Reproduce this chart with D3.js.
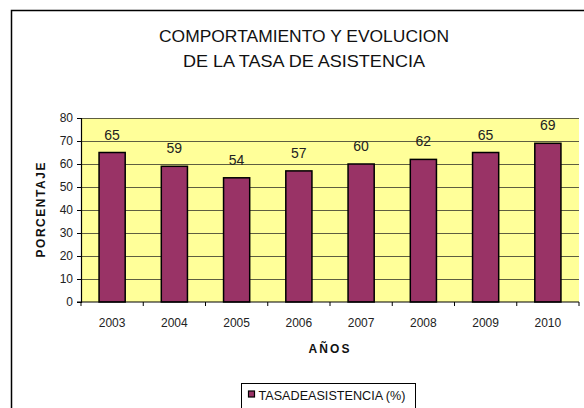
<!DOCTYPE html>
<html>
<head>
<meta charset="utf-8">
<script src="https://cdn.jsdelivr.net/npm/d3@7"></script>
<style>
  body { margin: 0; background: #fff; }
  svg { display: block; font-family: "Liberation Sans", Arial, sans-serif; }
</style>
</head>
<body>
<svg id="chart" width="584" height="408"></svg>
<script>
var years = ['2003', '2004', '2005', '2006', '2007', '2008', '2009', '2010']
var tasa = [65, 59, 54, 57, 60, 62, 65, 69]
var yTicks = [0, 10, 20, 30, 40, 50, 60, 70, 80]
var titleLines = ['COMPORTAMIENTO Y EVOLUCION', 'DE LA TASA DE ASISTENCIA']
var seriesName = 'TASADEASISTENCIA (%)'

var svg = d3.select('#chart')
var plot = { left: 81, right: 579, top: 118, bottom: 302 }
var titleWidths = [290, 242]

// outer chart frame (runs off the picture on right/bottom)
svg.append('rect')
  .attr('x', 11.5).attr('y', 10.5)
  .attr('width', 620).attr('height', 430)
  .attr('fill', '#fff').attr('stroke', '#000').attr('stroke-width', 1.5)

// title
svg.selectAll('.title')
  .data(titleLines)
  .enter()
  .append('text')
  .attr('class', 'title')
  .attr('x', 304)
  .attr('y', function(d, i) { return 42 + i * 25 })
  .attr('text-anchor', 'middle')
  .attr('font-size', 17)
  .attr('textLength', function(d, i) { return titleWidths[i] })
  .attr('lengthAdjust', 'spacingAndGlyphs')
  .attr('fill', '#111')
  .text(function(d) { return d })

var x = d3.scaleBand()
  .domain(years)
  .range([plot.left, plot.right])
  .paddingInner(0.58)
  .paddingOuter(0.29)

var y = d3.scaleLinear().domain([0, 80]).range([plot.bottom, plot.top])

// plot area background
svg.append('rect')
  .attr('x', plot.left).attr('y', plot.top)
  .attr('width', plot.right - plot.left).attr('height', plot.bottom - plot.top)
  .attr('fill', '#ffff99')

// gridlines
svg.append('g')
  .selectAll('line')
  .data(yTicks.filter(function(d) { return d > 0 }))
  .enter()
  .append('line')
  .attr('x1', plot.left).attr('x2', plot.right)
  .attr('y1', function(d) { return Math.round(y(d)) + 0.5 })
  .attr('y2', function(d) { return Math.round(y(d)) + 0.5 })
  .attr('stroke', '#5e5e40')
  .attr('stroke-width', 1.2)

// bars
svg.append('g')
  .selectAll('rect')
  .data(tasa)
  .enter()
  .append('rect')
  .attr('x', function(d, i) { return x(years[i]) })
  .attr('y', function(d) { return y(d) })
  .attr('width', x.bandwidth())
  .attr('height', function(d) { return plot.bottom - y(d) })
  .attr('fill', '#993366')
  .attr('stroke', '#000')
  .attr('stroke-width', 1.5)

// value labels
svg.append('g')
  .selectAll('text')
  .data(tasa)
  .enter()
  .append('text')
  .attr('x', function(d, i) { return x(years[i]) + x.bandwidth() / 2 })
  .attr('y', function(d) { return y(d) - 13 })
  .attr('text-anchor', 'middle')
  .attr('font-size', 14)
  .attr('fill', '#222')
  .text(function(d) { return d })

// y axis
var axisY = d3.axisLeft(y).tickValues(yTicks).tickSize(4).tickPadding(4)
var gy = svg.append('g')
  .attr('transform', 'translate(' + plot.left + ',0)')
  .call(axisY)
gy.select('.domain').attr('stroke', '#000').attr('stroke-width', 1.2)
gy.selectAll('.tick line').attr('stroke', '#000')
gy.selectAll('.tick text')
  .attr('font-family', '"Liberation Sans", Arial, sans-serif')
  .attr('font-size', 12).attr('fill', '#222')

// x axis: line plus ticks at category boundaries
var step = x.step()
var gx = svg.append('g').attr('transform', 'translate(0,' + plot.bottom + ')')
gx.append('line')
  .attr('x1', plot.left - 4).attr('x2', plot.right)
  .attr('stroke', '#000').attr('stroke-width', 1.2)
gx.selectAll('.xtick')
  .data(years.concat(['end']))
  .enter()
  .append('line')
  .attr('class', 'xtick')
  .attr('x1', function(d, i) { return plot.left + i * step })
  .attr('x2', function(d, i) { return plot.left + i * step })
  .attr('y1', 0).attr('y2', 4)
  .attr('stroke', '#000')
gx.selectAll('.xlab')
  .data(years)
  .enter()
  .append('text')
  .attr('class', 'xlab')
  .attr('x', function(d) { return x(d) + x.bandwidth() / 2 })
  .attr('y', 25)
  .attr('text-anchor', 'middle')
  .attr('font-size', 12)
  .attr('fill', '#222')
  .text(function(d) { return d })

// axis titles
svg.append('text')
  .attr('transform', 'translate(45,210)rotate(-90)')
  .attr('text-anchor', 'middle')
  .attr('font-size', 12)
  .attr('font-weight', 'bold')
  .attr('textLength', 95)
  .attr('lengthAdjust', 'spacing')
  .attr('fill', '#111')
  .text('PORCENTAJE')

svg.append('text')
  .attr('x', 329).attr('y', 353)
  .attr('text-anchor', 'middle')
  .attr('font-size', 12)
  .attr('font-weight', 'bold')
  .attr('textLength', 41)
  .attr('lengthAdjust', 'spacing')
  .attr('fill', '#111')
  .text('AÑOS')

// legend
var lg = svg.append('g').attr('transform', 'translate(241.5,383.5)')
lg.append('rect')
  .attr('width', 174).attr('height', 40)
  .attr('fill', '#fff').attr('stroke', '#000').attr('stroke-width', 1)
lg.append('rect')
  .attr('x', 7).attr('y', 7.5).attr('width', 6).attr('height', 6)
  .attr('fill', '#993366').attr('stroke', '#000').attr('stroke-width', 1.2)
lg.append('text')
  .attr('x', 17).attr('y', 16)
  .attr('font-size', 13)
  .attr('textLength', 147)
  .attr('lengthAdjust', 'spacingAndGlyphs')
  .attr('fill', '#111')
  .text(seriesName)
</script>
</body>
</html>
